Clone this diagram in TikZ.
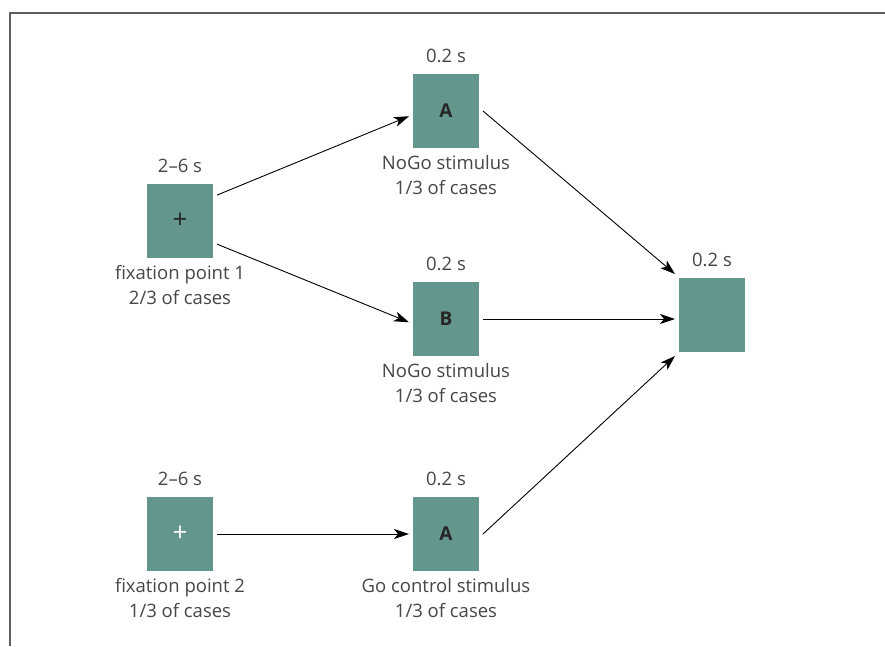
\documentclass[tikz,border=0pt]{standalone}
\usepackage{fontspec}
\setmainfont{Open Sans}
\definecolor{stimteal}{RGB}{99, 150, 140}
\definecolor{textgray}{RGB}{70, 70, 70}
\definecolor{framegray}{RGB}{95, 95, 95}
\usetikzlibrary{arrows.meta, positioning}

\begin{document}
\begin{tikzpicture}[x=1pt, y=-1pt,
  stimbox/.style={fill=stimteal, minimum width=66pt, minimum height=74pt, inner sep=0pt, outer sep=4pt, font=\fontsize{19}{22}\selectfont\bfseries, text=black!85},
  lbl/.style={font=\fontsize{18.5}{25}\selectfont, text=textgray, align=center, inner sep=1pt},
  flow/.style={-{Stealth[length=15pt, width=10pt, inset=4pt]}, line width=0.9pt}]
  \useasboundingbox (0,0) rectangle (885,646);

  % frame
  \draw[framegray, line width=2pt] (885,13) -- (10,13) -- (10,646);

  % fixation points
  \node[stimbox, font=\fontsize{26}{26}\selectfont] (fixA) at (180,221) {+};
  \node[lbl, above=6pt of fixA] (fixAtime) {2–6 s};
  \node[lbl, below=2pt of fixA] (fixAtext) {fixation point 1\\2/3 of cases};

  \node[stimbox, font=\fontsize{26}{26}\selectfont, text=white] (fixB) at (180,534) {+};
  \node[lbl, above=6pt of fixB] (fixBtime) {2–6 s};
  \node[lbl, below=2pt of fixB] (fixBtext) {fixation point 2\\1/3 of cases};

  % stimuli
  \node[stimbox] (nogoA) at (446,111) {A};
  \node[lbl, above=6pt of nogoA] (nogoAtime) {0.2 s};
  \node[lbl, below=2pt of nogoA] (nogoAtext) {NoGo stimulus\\1/3 of cases};

  \node[stimbox] (nogoB) at (446,319) {B};
  \node[lbl, above=6pt of nogoB] (nogoBtime) {0.2 s};
  \node[lbl, below=2pt of nogoB] (nogoBtext) {NoGo stimulus\\1/3 of cases};

  \node[stimbox] (goA) at (446,534) {A};
  \node[lbl, above=6pt of goA] (goAtime) {0.2 s};
  \node[lbl, below=2pt of goA] (goAtext) {Go control stimulus\\1/3 of cases};

  % blank screen
  \node[stimbox] (blank) at (712,315) {};
  \node[lbl, above=6pt of blank] (blanktime) {0.2 s};

  % arrows
  \draw[flow] (fixA.35) -- (nogoA.188);
  \draw[flow] (fixA.-32) -- (nogoB.185);
  \draw[flow] (fixB.east) -- (goA.west);
  \draw[flow] (nogoA.east) -- (blank.north west);
  \draw[flow] (nogoB.east) -- (nogoB.east -| blank.west);
  \draw[flow] (goA.east) -- (blank.south west);
\end{tikzpicture}
\end{document}
